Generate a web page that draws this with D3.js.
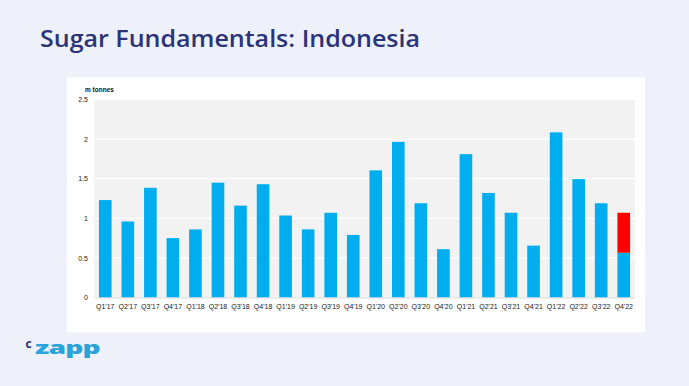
<!DOCTYPE html>
<html><head><meta charset="utf-8">
<script src="https://cdn.jsdelivr.net/npm/d3@7"></script>
<style>body{margin:0;background:#eef1f9;}svg{display:block;}</style>
</head><body>
<svg id="c" width="689" height="386"></svg>
<script>
const categories = ["Q1'17","Q2'17","Q3'17","Q4'17","Q1'18","Q2'18","Q3'18","Q4'18","Q1'19","Q2'19","Q3'19","Q4'19","Q1'20","Q2'20","Q3'20","Q4'20","Q1'21","Q2'21","Q3'21","Q4'21","Q1'22","Q2'22","Q3'22","Q4'22"];
const actual = [1.23,0.96,1.385,0.75,0.86,1.45,1.16,1.43,1.035,0.86,1.07,0.79,1.605,1.965,1.19,0.61,1.81,1.32,1.07,0.655,2.085,1.495,1.19,0.565];
const forecast = [0,0,0,0,0,0,0,0,0,0,0,0,0,0,0,0,0,0,0,0,0,0,0,0.505];
const yTicks = [0,0.5,1,1.5,2,2.5];

const svg = d3.select("#c");
svg.append("rect").attr("width",689).attr("height",386).attr("fill","#eef1f9");
svg.append("text").attr("x",40).attr("y",47).text("Sugar Fundamentals: Indonesia")
  .attr("font-family","'Open Sans', sans-serif").attr("font-weight",600).attr("font-size",24)
  .attr("fill","#2b3479").attr("textLength",380).attr("lengthAdjust","spacingAndGlyphs");
// panel
svg.append("rect").attr("x",67).attr("y",77.5).attr("width",578).attr("height",255).attr("fill","#ffffff");

const m = {l:94,r:635,t:99.5,b:297.5};
const x = d3.scaleBand().domain(categories).range([m.l,m.r]).paddingInner(0.44).paddingOuter(0.22);
const y = d3.scaleLinear().domain([0,2.5]).range([m.b,m.t]);

svg.append("rect").attr("x",m.l).attr("y",m.t).attr("width",m.r-m.l).attr("height",m.b-m.t).attr("fill","#f2f2f2");
svg.append("g").selectAll("line").data(yTicks.slice(1)).join("line")
  .attr("x1",m.l).attr("x2",m.r).attr("y1",d=>y(d)).attr("y2",d=>y(d))
  .attr("stroke","#ffffff").attr("stroke-width",1.2);

const yAxis = svg.append("g").attr("transform",`translate(${m.l},0)`)
  .call(d3.axisLeft(y).tickValues(yTicks).tickSize(0).tickPadding(6).tickFormat(d=>String(d)));
yAxis.select(".domain").remove();
yAxis.selectAll("text").attr("font-family","'Liberation Sans', Arial, sans-serif").attr("font-size",7).attr("fill","#222");

svg.append("g").selectAll("rect").data(categories).join("rect")
  .attr("x",d=>x(d)).attr("width",x.bandwidth())
  .attr("y",(d,i)=>y(actual[i])).attr("height",(d,i)=>y(0)-y(actual[i]))
  .attr("fill","#00aeef");
svg.append("g").selectAll("rect").data(categories.filter((d,i)=>forecast[i]>0)).join("rect")
  .attr("x",d=>x(d)).attr("width",x.bandwidth())
  .attr("y",d=>{const i=categories.indexOf(d);return y(actual[i]+forecast[i]);})
  .attr("height",d=>{const i=categories.indexOf(d);return y(actual[i])-y(actual[i]+forecast[i]);})
  .attr("fill","#ff0000");

const xAxis = svg.append("g").attr("transform",`translate(0,${m.b})`)
  .call(d3.axisBottom(x).tickSize(0).tickPadding(7));
xAxis.select(".domain").attr("stroke","#d9d9d9").attr("stroke-width",1);
xAxis.selectAll("text").attr("font-family","'Liberation Sans', Arial, sans-serif").attr("font-size",7).attr("fill","#222");

svg.append("text").attr("x",85).attr("y",92).text("m tonnes")
  .attr("font-family","'Liberation Sans', Arial, sans-serif").attr("font-weight","bold").attr("font-size",6.5).attr("fill","#111");

// logo
svg.append("text").attr("x",25.5).attr("y",348).text("c")
  .attr("font-family","'Open Sans', sans-serif").attr("font-weight",700).attr("font-size",12)
  .attr("fill","#2b3479");
const zg = svg.append("g");
const zt = zg.append("text").attr("x",0).attr("y",0).text("zapp")
  .attr("font-family","'Open Sans', sans-serif").attr("font-weight",800).attr("font-size",18)
  .attr("fill","#29a3dc").attr("letter-spacing",-0.5);
const w = zt.node().getComputedTextLength();
zg.attr("transform",`translate(35,354) scale(${65/w},1)`);
</script>
</body></html>
